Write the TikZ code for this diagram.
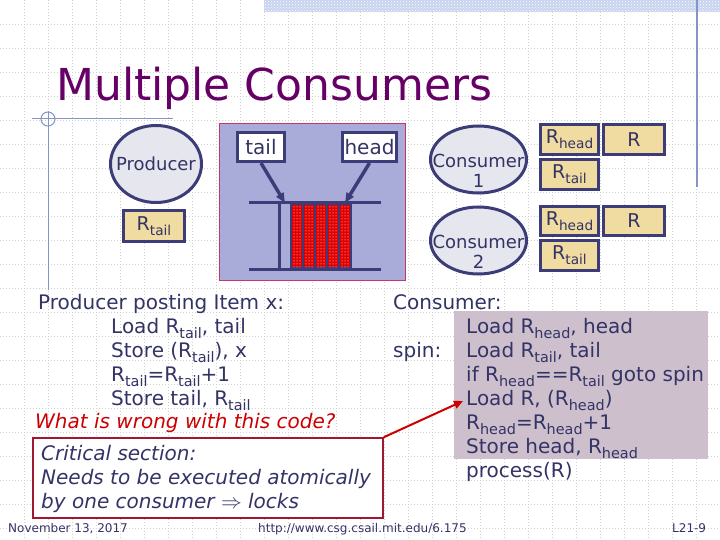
\documentclass[tikz,border=0pt]{standalone}
\usepackage{fontspec}
\setmainfont{DejaVu Sans}
\usetikzlibrary{patterns,shapes.geometric,arrows.meta}
\definecolor{navy}{HTML}{333366}
\definecolor{boxblue}{HTML}{3C3C78}
\definecolor{ttl}{HTML}{660066}
\definecolor{ellfill}{HTML}{E6E6EE}
\definecolor{qfill}{HTML}{A9ACD9}
\definecolor{qborder}{HTML}{CC3366}
\definecolor{regfill}{HTML}{F0DCA0}
\definecolor{mauve}{HTML}{CDC0CC}
\definecolor{redtxt}{HTML}{CC0000}
\definecolor{critborder}{HTML}{A01830}
\definecolor{gridc}{HTML}{D0D0D0}
\definecolor{band}{HTML}{C8D4EE}
\definecolor{rule}{HTML}{8494C4}
\definecolor{stripe}{HTML}{E00000}
\makeatletter
\newcommand\lo[1]{\raisebox{-0.25em}{\fontsize{\fpeval{0.72*\f@size}}{1}\selectfont #1}}
\makeatother
\newcommand\setfs[1]{\fontsize{#1}{#1}\selectfont}
\tikzset{
  gridline/.style={gridc, line width=0.7pt, dash pattern=on 1pt off 2pt},
  txt/.style={anchor=base west, inner sep=0pt, text=navy, font=\setfs{20}},
  ell/.style={ellipse, draw=boxblue, line width=3pt, fill=ellfill, inner sep=0pt},
  elltxt/.style={inner sep=0pt, text=navy, font=\setfs{18}, align=center},
  wbox/.style={rectangle, draw=boxblue, line width=3pt, fill=white, inner sep=0pt, text=navy, font=\setfs{20}},
  reg/.style={rectangle, draw=boxblue, line width=3pt, fill=regfill, inner sep=0pt, text=navy, font=\setfs{19}},
  qline/.style={boxblue, line width=3pt},
  qarrow/.style={boxblue, line width=3.5pt, -{Triangle[length=10pt,width=8pt]}},
  foot/.style={anchor=base west, inner sep=0pt, text=navy, font=\setfs{12}},
}
\begin{document}
\begin{tikzpicture}[x=1pt,y=-1pt]
\useasboundingbox (0,0) rectangle (720,540);
\fill[white] (0,0) rectangle (720,540);
% grid
\foreach \x in {24,48,...,696} \draw[gridline] (\x,0) -- (\x,540);
\foreach \y in {24,48,...,528} \draw[gridline] (0,\y) -- (720,\y);
% top band
\fill[band] (264,0) rectangle (720,12);
\fill[pattern=crosshatch dots, pattern color=white] (264,0) rectangle (720,12);
\draw[rule, line width=1.5pt] (697,0) -- (697,187);
% crosshair
\draw[rule, line width=1pt] (32,119) -- (173,119);
\draw[rule, line width=1pt] (48,111) -- (48,290);
\draw[rule, line width=1pt] (48,119) circle (7);
% title
\node[anchor=base west, inner sep=0pt, text=ttl, font=\setfs{44}] (title) at (56,101) {Multiple Consumers};
% producer
\node[ell, minimum width=91, minimum height=77] (prod) at (156,164) {};
\node[elltxt] (prodt) at (156,164) {Producer};
\node[reg, minimum width=61, minimum height=30] (prt) at (154,226) {R\lo{tail}};
% queue
\node[rectangle, draw=qborder, line width=1pt, fill=qfill, minimum width=186, minimum height=156, inner sep=0pt] (queue) at (312,202) {};
\node[wbox, minimum width=47, minimum height=29] (tailb) at (261,147) {tail};
\node[wbox, minimum width=54, minimum height=29] (headb) at (369.5,147) {head};
\draw[qline] (249,203) -- (381,203);
\draw[qline] (249,269) -- (381,269);
\draw[qline] (279.5,203) -- (279.5,269);
\fill[boxblue] (290,203) rectangle (352,269);
\foreach \i in {0,...,4} {
  \fill[stripe] (292+12*\i,205) rectangle (302+12*\i,267);
  \fill[pattern=dots, pattern color=white] (292+12*\i,205) rectangle (302+12*\i,267);
}
\coordinate (qt) at (285,203);
\coordinate (qh) at (345,203);
\draw[qarrow] (tailb.south) -- (qt);
\draw[qarrow] (headb.south) -- (qh);
% consumers
\node[ell, minimum width=96, minimum height=67] (c1) at (478.5,159.5) {};
\node[elltxt] (c1t) at (478.5,171) {Consumer\\[2pt]1};
\node[ell, minimum width=96, minimum height=67] (c2) at (478.5,240.5) {};
\node[elltxt] (c2t) at (478.5,252) {Consumer\\[2pt]2};
\node[reg, minimum width=58, minimum height=30] (c1rh) at (569.5,139.5) {R\lo{head}};
\node[reg, minimum width=61, minimum height=30] (c1r) at (634,139.5) {R};
\node[reg, minimum width=58, minimum height=30] (c1rt) at (569.5,174.5) {R\lo{tail}};
\node[reg, minimum width=58, minimum height=29] (c2rh) at (569.5,221) {R\lo{head}};
\node[reg, minimum width=61, minimum height=29] (c2r) at (634,221) {R};
\node[reg, minimum width=58, minimum height=30] (c2rt) at (569.5,255.5) {R\lo{tail}};
% producer code
\node[txt] (p0) at (38,309) {Producer posting Item x:};
\node[txt] (p1) at (111,333) {Load R\lo{tail}, tail};
\node[txt] (p2) at (111,357) {Store (R\lo{tail}), x};
\node[txt] (p3) at (111,381) {R\lo{tail}=R\lo{tail}+1};
\node[txt] (p4) at (111,405) {Store tail, R\lo{tail}};
\node[txt, text=redtxt, font=\setfs{20}\itshape] (wrong) at (35,428) {What is wrong with this code?};
% critical box
\node[rectangle, draw=critborder, line width=1.5pt, fill=white, minimum width=350, minimum height=80, inner sep=0pt] (crit) at (208,478) {};
\node[txt, font=\setfs{20}\itshape] (k1) at (41,460) {Critical section:};
\node[txt, font=\setfs{20}\itshape] (k2) at (41,484) {Needs to be executed atomically};
\node[txt, font=\setfs{20}\itshape] (k3) at (41,508) {by one consumer $\Rightarrow$ locks};
% consumer code
\fill[mauve] (454,311) rectangle (708,459);
\node[txt] (cc) at (393,309) {Consumer:};
\node[txt] (spin) at (393,357) {spin:};
\node[txt] (q1) at (466,333) {Load R\lo{head}, head};
\node[txt] (q2) at (466,357) {Load R\lo{tail}, tail};
\node[txt] (q3) at (466,381) {if R\lo{head}==R\lo{tail} goto spin};
\node[txt] (q4) at (466,405) {Load R, (R\lo{head})};
\node[txt] (q5) at (466,429) {R\lo{head}=R\lo{head}+1};
\node[txt] (q6) at (466,453) {Store head, R\lo{head}};
\node[txt] (q7) at (466,477) {process(R)};
\draw[redtxt, line width=2pt, -{Triangle[length=9pt,width=8pt]}] (crit.north east) -- ([xshift=-3pt,yshift=-1pt]q4.west);
% footer
\node[foot] (date) at (8,532) {November 13, 2017};
\node[foot] (url) at (258,532) {http://www.csg.csail.mit.edu/6.175};
\node[foot] (pg) at (672,532) {L21-9};
\end{tikzpicture}
\end{document}
